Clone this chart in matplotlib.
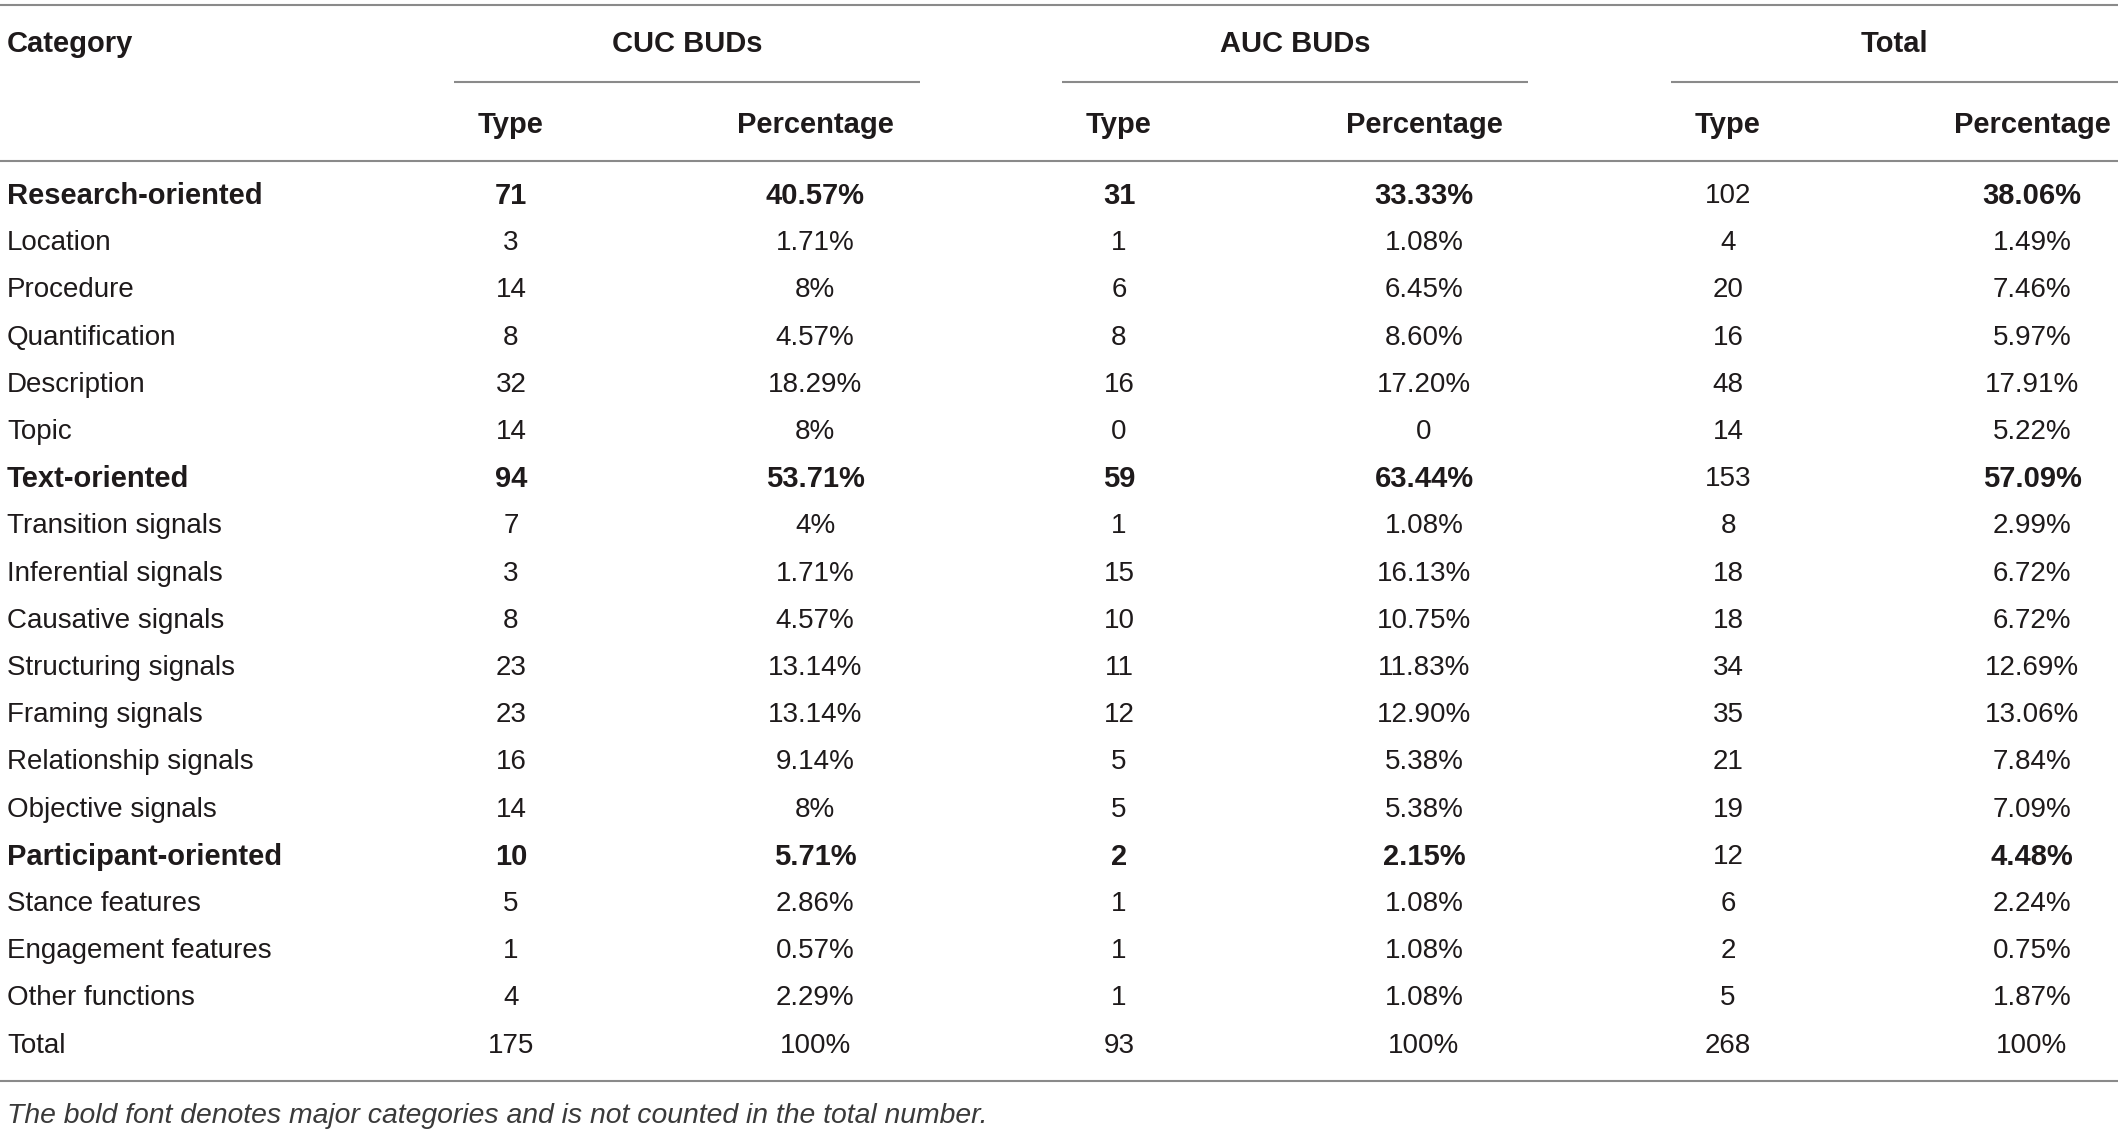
import matplotlib
matplotlib.use("Agg")
import matplotlib.pyplot as plt

categories = ["Research-oriented", "Location", "Procedure", "Quantification", "Description",
              "Topic", "Text-oriented", "Transition signals", "Inferential signals",
              "Causative signals", "Structuring signals", "Framing signals",
              "Relationship signals", "Objective signals", "Participant-oriented",
              "Stance features", "Engagement features", "Other functions", "Total"]
major = ["Research-oriented", "Text-oriented", "Participant-oriented"]

cuc_type = [71, 3, 14, 8, 32, 14, 94, 7, 3, 8, 23, 23, 16, 14, 10, 5, 1, 4, 175]
cuc_pct = ["40.57%", "1.71%", "8%", "4.57%", "18.29%", "8%", "53.71%", "4%", "1.71%",
           "4.57%", "13.14%", "13.14%", "9.14%", "8%", "5.71%", "2.86%", "0.57%",
           "2.29%", "100%"]
auc_type = [31, 1, 6, 8, 16, 0, 59, 1, 15, 10, 11, 12, 5, 5, 2, 1, 1, 1, 93]
auc_pct = ["33.33%", "1.08%", "6.45%", "8.60%", "17.20%", "0", "63.44%", "1.08%", "16.13%",
           "10.75%", "11.83%", "12.90%", "5.38%", "5.38%", "2.15%", "1.08%", "1.08%",
           "1.08%", "100%"]
tot_type = [102, 4, 20, 16, 48, 14, 153, 8, 18, 18, 34, 35, 21, 19, 12, 6, 2, 5, 268]
tot_pct = ["38.06%", "1.49%", "7.46%", "5.97%", "17.91%", "5.22%", "57.09%", "2.99%",
           "6.72%", "6.72%", "12.69%", "13.06%", "7.84%", "7.09%", "4.48%", "2.24%",
           "0.75%", "1.87%", "100%"]

groups = ["CUC BUDs", "AUC BUDs", "Total"]
footnote = "The bold font denotes major categories and is not counted in the total number."

W, H = 2118, 1130
fig = plt.figure(figsize=(W / 100, H / 100), dpi=100)
ax = fig.add_axes([0, 0, 1, 1])
ax.set_xlim(0, W)
ax.set_ylim(H, 0)
ax.axis("off")

txt = "#1e1a1b"
line = "#8a8a8a"
fs = 20
fs_b = 21
plt.rcParams["font.family"] = ["Liberation Sans", "DejaVu Sans"]

# column centres (pixels)
group_x = [687, 1295, 1894]
group_span = [(454, 920), (1062, 1528), (1671, 2118)]
col_x = [511, 815, 1119, 1424, 1728, 2032]

# rules
ax.hlines([5, 161, 1081], 0, W, color=line, lw=1.5)
for a, b in group_span:
    ax.hlines(82, a, b, color=line, lw=1.5)

# header
ax.text(7, 44, "Category", ha="left", va="center", fontsize=fs_b, fontweight="bold", color=txt)
for g, gx in zip(groups, group_x):
    ax.text(gx, 44, g, ha="center", va="center", fontsize=fs_b, fontweight="bold", color=txt)
for i, cx in enumerate(col_x):
    ax.text(cx, 125, "Type" if i % 2 == 0 else "Percentage", ha="center", va="center",
            fontsize=fs_b, fontweight="bold", color=txt)

# body
y0, dy = 196, 47.2
for i, cat in enumerate(categories):
    y = y0 + i * dy
    is_major = cat in major
    vals = [cuc_type[i], cuc_pct[i], auc_type[i], auc_pct[i], tot_type[i], tot_pct[i]]
    ax.text(7, y, cat, ha="left", va="center", fontsize=fs_b if is_major else fs,
            fontweight="bold" if is_major else "normal", color=txt)
    for j, (cx, v) in enumerate(zip(col_x, vals)):
        bold = is_major and j != 4
        ax.text(cx, y, str(v), ha="center", va="center", fontsize=fs_b if bold else fs,
                fontweight="bold" if bold else "normal", color=txt)

ax.text(7, 1116, footnote, ha="left", va="center", fontsize=20.4, style="italic", color="#3a3a3a")

fig.savefig("out.png", dpi=100)
